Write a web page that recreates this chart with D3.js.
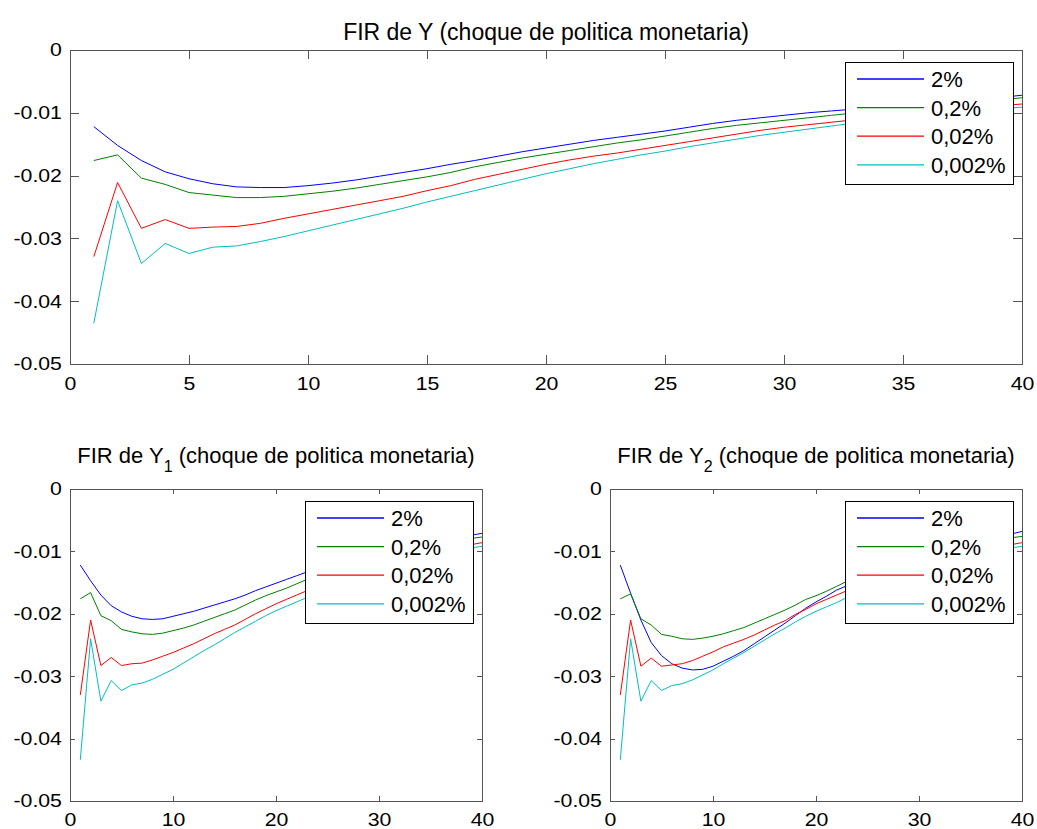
<!DOCTYPE html>
<html>
<head>
<meta charset="utf-8">
<script src="https://cdn.jsdelivr.net/npm/d3@7"></script>
<style>
  html, body { margin: 0; padding: 0; background: #fff; }
  svg { display: block; font-family: "Liberation Sans", Arial, Helvetica, sans-serif; }
</style>
</head>
<body>
<svg id="chart" width="1037" height="829"></svg>
<script>
// Impulse responses of output to a monetary policy shock, horizons 1..40
const horizons = d3.range(1, 41);
const seriesLabels = ["2%", "0,2%", "0,02%", "0,002%"];
const seriesColors = ["#0000ff", "#008000", "#ff0000", "#00bfbf"];

// FIR de Y
const firY_2 = [-0.0122,-0.0152,-0.0176,-0.0194,-0.0205,-0.0213,-0.0218,-0.0219,-0.0219,-0.0216,
  -0.0212,-0.0207,-0.0201,-0.0195,-0.0189,-0.0182,-0.0176,-0.0169,-0.0162,-0.0156,
  -0.0150,-0.0144,-0.0139,-0.0134,-0.0129,-0.0123,-0.0117,-0.0112,-0.0108,-0.0104,
  -0.0100,-0.0097,-0.0094,-0.0091,-0.0088,-0.0085,-0.0082,-0.0079,-0.0076,-0.0072];
const firY_02 = [-0.0176,-0.0167,-0.0204,-0.0214,-0.0227,-0.0231,-0.0235,-0.0235,-0.0233,-0.0229,
  -0.0225,-0.0220,-0.0214,-0.0208,-0.0202,-0.0195,-0.0186,-0.0179,-0.0172,-0.0166,
  -0.0160,-0.0154,-0.0148,-0.0143,-0.0137,-0.0131,-0.0125,-0.0120,-0.0116,-0.0112,
  -0.0108,-0.0104,-0.0100,-0.0097,-0.0093,-0.0090,-0.0086,-0.0083,-0.0080,-0.0076];
const firY_002 = [-0.0329,-0.0211,-0.0284,-0.0270,-0.0284,-0.0282,-0.0281,-0.0276,-0.0268,-0.0261,
  -0.0254,-0.0247,-0.0240,-0.0233,-0.0224,-0.0216,-0.0206,-0.0198,-0.0190,-0.0182,
  -0.0175,-0.0169,-0.0164,-0.0158,-0.0152,-0.0146,-0.0140,-0.0134,-0.0128,-0.0123,
  -0.0119,-0.0115,-0.0111,-0.0107,-0.0103,-0.0099,-0.0096,-0.0092,-0.0089,-0.0086];
const firY_0002 = [-0.0435,-0.0240,-0.0340,-0.0308,-0.0324,-0.0314,-0.0312,-0.0305,-0.0297,-0.0288,
  -0.0279,-0.0270,-0.0261,-0.0252,-0.0242,-0.0233,-0.0224,-0.0215,-0.0206,-0.0197,
  -0.0189,-0.0181,-0.0174,-0.0167,-0.0161,-0.0154,-0.0148,-0.0142,-0.0136,-0.0131,
  -0.0126,-0.0121,-0.0116,-0.0112,-0.0108,-0.0104,-0.0100,-0.0097,-0.0094,-0.0091];

// FIR de Y1
const firY1_2 = [-0.0122,-0.0147,-0.0170,-0.0187,-0.0197,-0.0204,-0.0208,-0.0209,-0.0208,-0.0204,
  -0.0200,-0.0196,-0.0191,-0.0186,-0.0181,-0.0176,-0.0170,-0.0163,-0.0157,-0.0151,
  -0.0145,-0.0139,-0.0133,-0.0128,-0.0123,-0.0118,-0.0113,-0.0109,-0.0105,-0.0101,
  -0.0097,-0.0094,-0.0091,-0.0088,-0.0085,-0.0082,-0.0079,-0.0076,-0.0074,-0.0071];
const firY1_02 = [-0.0176,-0.0166,-0.0203,-0.0211,-0.0225,-0.0229,-0.0232,-0.0233,-0.0231,-0.0227,
  -0.0223,-0.0218,-0.0212,-0.0206,-0.0200,-0.0194,-0.0186,-0.0178,-0.0171,-0.0165,
  -0.0159,-0.0152,-0.0145,-0.0139,-0.0133,-0.0127,-0.0121,-0.0116,-0.0111,-0.0107,
  -0.0103,-0.0099,-0.0095,-0.0092,-0.0089,-0.0086,-0.0083,-0.0081,-0.0079,-0.0077];
const firY1_002 = [-0.0330,-0.0210,-0.0283,-0.0270,-0.0283,-0.0280,-0.0279,-0.0274,-0.0268,-0.0262,
  -0.0255,-0.0248,-0.0240,-0.0232,-0.0225,-0.0218,-0.0209,-0.0200,-0.0192,-0.0184,
  -0.0177,-0.0170,-0.0163,-0.0156,-0.0150,-0.0144,-0.0138,-0.0132,-0.0127,-0.0122,
  -0.0117,-0.0113,-0.0109,-0.0105,-0.0101,-0.0098,-0.0095,-0.0092,-0.0089,-0.0086];
const firY1_0002 = [-0.0434,-0.0240,-0.0340,-0.0307,-0.0323,-0.0314,-0.0311,-0.0305,-0.0297,-0.0289,
  -0.0279,-0.0269,-0.0259,-0.0250,-0.0240,-0.0230,-0.0221,-0.0212,-0.0203,-0.0195,
  -0.0188,-0.0181,-0.0174,-0.0167,-0.0160,-0.0153,-0.0147,-0.0141,-0.0135,-0.0130,
  -0.0125,-0.0120,-0.0115,-0.0111,-0.0107,-0.0103,-0.0100,-0.0097,-0.0094,-0.0092];

// FIR de Y2
const firY2_2 = [-0.0122,-0.0167,-0.0210,-0.0246,-0.0267,-0.0280,-0.0287,-0.0290,-0.0289,-0.0284,
  -0.0276,-0.0268,-0.0259,-0.0248,-0.0237,-0.0226,-0.0215,-0.0203,-0.0191,-0.0181,
  -0.0172,-0.0162,-0.0155,-0.0148,-0.0141,-0.0134,-0.0127,-0.0121,-0.0115,-0.0110,
  -0.0105,-0.0100,-0.0095,-0.0091,-0.0087,-0.0083,-0.0079,-0.0075,-0.0072,-0.0068];
const firY2_02 = [-0.0176,-0.0168,-0.0208,-0.0218,-0.0233,-0.0236,-0.0240,-0.0241,-0.0239,-0.0236,
  -0.0232,-0.0227,-0.0222,-0.0215,-0.0208,-0.0201,-0.0194,-0.0186,-0.0177,-0.0171,
  -0.0164,-0.0156,-0.0148,-0.0141,-0.0134,-0.0128,-0.0122,-0.0117,-0.0112,-0.0107,
  -0.0103,-0.0099,-0.0095,-0.0091,-0.0088,-0.0085,-0.0082,-0.0080,-0.0078,-0.0076];
const firY2_002 = [-0.0330,-0.0210,-0.0284,-0.0271,-0.0284,-0.0282,-0.0280,-0.0275,-0.0268,-0.0261,
  -0.0253,-0.0247,-0.0241,-0.0234,-0.0226,-0.0218,-0.0211,-0.0201,-0.0193,-0.0184,
  -0.0177,-0.0170,-0.0163,-0.0157,-0.0151,-0.0145,-0.0139,-0.0133,-0.0128,-0.0123,
  -0.0118,-0.0114,-0.0110,-0.0106,-0.0102,-0.0098,-0.0095,-0.0092,-0.0089,-0.0086];
const firY2_0002 = [-0.0434,-0.0240,-0.0340,-0.0307,-0.0323,-0.0315,-0.0312,-0.0306,-0.0298,-0.0290,
  -0.0280,-0.0271,-0.0262,-0.0252,-0.0242,-0.0232,-0.0223,-0.0213,-0.0204,-0.0196,
  -0.0189,-0.0182,-0.0174,-0.0167,-0.0160,-0.0153,-0.0147,-0.0141,-0.0135,-0.0130,
  -0.0125,-0.0120,-0.0115,-0.0111,-0.0107,-0.0103,-0.0100,-0.0097,-0.0094,-0.0092];

const yTicks = [0, -0.01, -0.02, -0.03, -0.04, -0.05];
const xTicksWide = [0, 5, 10, 15, 20, 25, 30, 35, 40];
const xTicksNarrow = [0, 10, 20, 30, 40];

const panels = [
  { title: "FIR de Y", sub: null, series: [firY_2, firY_02, firY_002, firY_0002],
    left: 70, right: 1022, top: 50, bottom: 364, xTicks: xTicksWide, tickLen: 9,
    titleSize: 23, titleBase: 40, xPad: 13 },
  { title: "FIR de Y", sub: "1", series: [firY1_2, firY1_02, firY1_002, firY1_0002],
    left: 70, right: 482, top: 489, bottom: 801, xTicks: xTicksNarrow, tickLen: 5,
    titleSize: 22, titleBase: 463, xPad: 12 },
  { title: "FIR de Y", sub: "2", series: [firY2_2, firY2_02, firY2_002, firY2_0002],
    left: 610, right: 1022, top: 489, bottom: 801, xTicks: xTicksNarrow, tickLen: 5,
    titleSize: 22, titleBase: 463, xPad: 12 }
];

const svg = d3.select("#chart");
const axisColor = "#555";
const labelScale = "scale(1.15,1)";
const yFormat = d => d === 0 ? "0" : d.toFixed(2);

panels.forEach(p => {
  const x = d3.scaleLinear().domain([0, 40]).range([p.left, p.right]);
  const y = d3.scaleLinear().domain([-0.05, 0]).range([p.bottom, p.top]);
  const g = svg.append("g");

  // plot frame
  g.append("rect")
    .attr("x", p.left).attr("y", p.top)
    .attr("width", p.right - p.left).attr("height", p.bottom - p.top)
    .attr("fill", "#fff").attr("stroke", axisColor).attr("stroke-width", 1)
    .attr("shape-rendering", "crispEdges");

  // axes with inward ticks on all four sides
  const styleAxis = (sel, labels) => {
    sel.select(".domain").remove();
    sel.selectAll(".tick line").attr("stroke", axisColor).attr("shape-rendering", "crispEdges");
    if (!labels) sel.selectAll(".tick text").remove();
    else sel.selectAll(".tick text").attr("fill", "#000").style("font-size", "18.5px")
      .attr("transform", labelScale);
  };
  g.append("g").attr("transform", `translate(0,${p.bottom})`)
    .call(d3.axisBottom(x).tickValues(p.xTicks).tickSizeInner(-p.tickLen).tickSizeOuter(0)
      .tickPadding(p.xPad).tickFormat(d3.format("d")))
    .call(s => styleAxis(s, true));
  g.append("g").attr("transform", `translate(0,${p.top})`)
    .call(d3.axisTop(x).tickValues(p.xTicks).tickSizeInner(-p.tickLen).tickSizeOuter(0))
    .call(s => styleAxis(s, false));
  g.append("g").attr("transform", `translate(${p.left},0)`)
    .call(d3.axisLeft(y).tickValues(yTicks).tickSizeInner(-p.tickLen).tickSizeOuter(0)
      .tickPadding(7).tickFormat(yFormat))
    .call(s => styleAxis(s, true));
  g.append("g").attr("transform", `translate(${p.right},0)`)
    .call(d3.axisRight(y).tickValues(yTicks).tickSizeInner(-p.tickLen).tickSizeOuter(0))
    .call(s => styleAxis(s, false));
  g.selectAll(".tick text").attr("font-family", null);
  g.selectAll("g").attr("font-family", null).attr("font-size", null);

  // response lines
  const line = d3.line().x((d, i) => x(horizons[i])).y(d => y(d));
  p.series.forEach((vals, k) => {
    g.append("path").datum(vals)
      .attr("d", line)
      .attr("fill", "none")
      .attr("stroke", seriesColors[k])
      .attr("stroke-width", 1);
  });

  // title
  const t = g.append("text")
    .attr("x", (p.left + p.right) / 2).attr("y", p.titleBase)
    .attr("text-anchor", "middle")
    .style("font-size", p.titleSize + "px").attr("fill", "#000");
  t.append("tspan").text(p.title);
  if (p.sub) {
    t.append("tspan").attr("dy", 9).style("font-size", "16px").text(p.sub);
    t.append("tspan").attr("dy", -9).text(" (choque de politica monetaria)");
  } else {
    t.append("tspan").text(" (choque de politica monetaria)");
  }

  // legend
  const lw = 168, lh = 122;
  const lx = p.right - 9 - lw, ly = p.top + 12;
  const leg = g.append("g").attr("transform", `translate(${lx},${ly})`);
  leg.append("rect").attr("width", lw).attr("height", lh)
    .attr("fill", "#fff").attr("stroke", "#000").attr("stroke-width", 1)
    .attr("shape-rendering", "crispEdges");
  seriesLabels.forEach((lab, k) => {
    const ry = 17 + k * 28.6;
    leg.append("line")
      .attr("x1", 12).attr("x2", 79).attr("y1", ry).attr("y2", ry)
      .attr("stroke", seriesColors[k]).attr("stroke-width", 1.3);
    leg.append("text")
      .attr("x", 86).attr("y", ry).attr("dy", "0.36em")
      .style("font-size", "22px").attr("fill", "#000").text(lab);
  });
});
</script>
</body>
</html>
